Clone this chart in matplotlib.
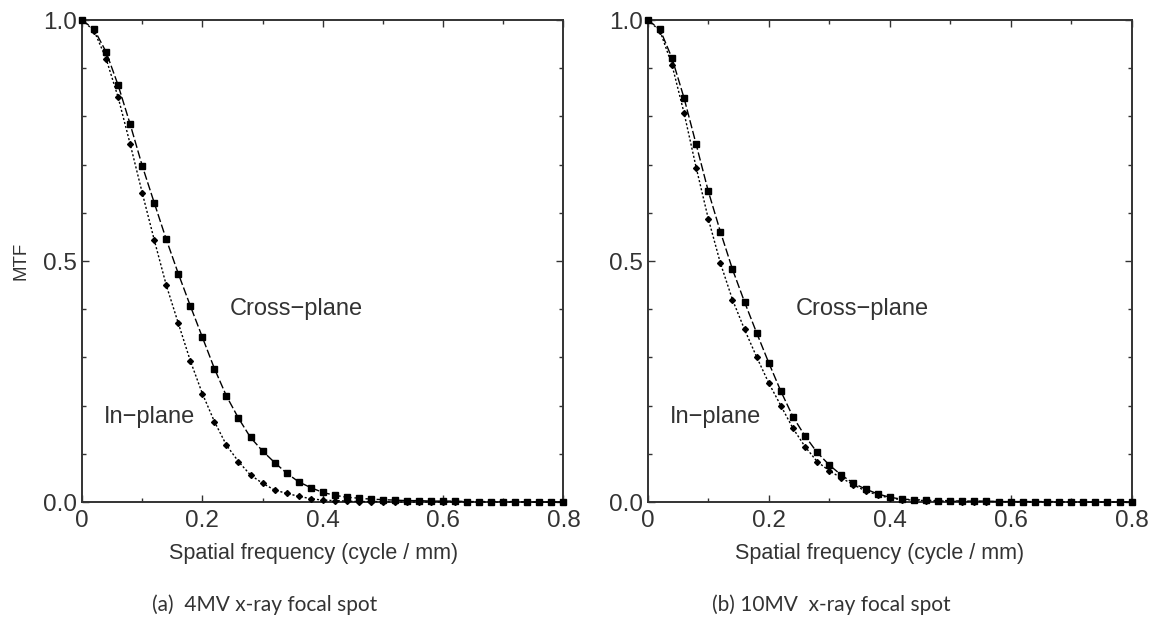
import matplotlib
matplotlib.use('Agg')
import matplotlib.pyplot as plt
from matplotlib.ticker import MultipleLocator, FixedFormatter, FixedLocator

plt.rcParams['font.family'] = ['Liberation Sans', 'DejaVu Sans']

# spatial frequency samples (cycle / mm), every 0.02
freq = [round(0.02 * i, 2) for i in range(41)]

# (a) 4MV
mtf_4mv_cross = [1.000, 0.981, 0.934, 0.865, 0.784, 0.698, 0.621, 0.545, 0.474, 0.407,
                 0.342, 0.277, 0.220, 0.174, 0.134, 0.106, 0.082, 0.060, 0.042, 0.030,
                 0.020, 0.014, 0.010, 0.008, 0.006, 0.005, 0.004, 0.003, 0.003, 0.002,
                 0.002, 0.002, 0.001, 0.001, 0.001, 0.001, 0.001, 0.000, 0.000, 0.000,
                 0.000]
mtf_4mv_in = [1.000, 0.978, 0.920, 0.840, 0.743, 0.642, 0.544, 0.450, 0.371, 0.293,
              0.225, 0.167, 0.118, 0.084, 0.056, 0.039, 0.025, 0.018, 0.012, 0.007,
              0.004, 0.003, 0.002, 0.001, 0.001, 0.001, 0.000, 0.000, 0.000, 0.000,
              0.000, 0.000, 0.000, 0.000, 0.000, 0.000, 0.000, 0.000, 0.000, 0.000,
              0.000]

# (b) 10MV
mtf_10mv_cross = [1.000, 0.981, 0.921, 0.838, 0.742, 0.645, 0.561, 0.483, 0.415, 0.351,
                  0.289, 0.230, 0.177, 0.137, 0.103, 0.077, 0.056, 0.039, 0.027, 0.017,
                  0.010, 0.006, 0.005, 0.004, 0.003, 0.003, 0.002, 0.002, 0.002, 0.001,
                  0.001, 0.001, 0.001, 0.001, 0.001, 0.000, 0.000, 0.000, 0.000, 0.000,
                  0.000]
mtf_10mv_in = [1.000, 0.978, 0.907, 0.807, 0.694, 0.588, 0.496, 0.420, 0.358, 0.301,
               0.247, 0.200, 0.153, 0.115, 0.084, 0.065, 0.050, 0.036, 0.023, 0.015,
               0.008, 0.005, 0.004, 0.003, 0.002, 0.002, 0.001, 0.001, 0.001, 0.001,
               0.000, 0.000, 0.000, 0.000, 0.000, 0.000, 0.000, 0.000, 0.000, 0.000,
               0.000]

panels = [
    ('(a)  4MV x-ray focal spot', mtf_4mv_cross, mtf_4mv_in),
    ('(b) 10MV  x-ray focal spot', mtf_10mv_cross, mtf_10mv_in),
]

fig = plt.figure(figsize=(11.63, 6.26), dpi=100)
axes = [fig.add_axes([0.0705, 0.198, 0.414, 0.770]),
        fig.add_axes([0.557, 0.198, 0.416, 0.770])]

for i, (ax, (caption, cross, inplane)) in enumerate(zip(axes, panels)):
    ax.plot(freq, cross, color='black', linestyle=(0, (6, 2)), linewidth=1.0,
            marker='s', markersize=4.3, clip_on=False, zorder=3)
    ax.plot(freq, inplane, color='black', linestyle=(0, (1.5, 1.5)), linewidth=1.0,
            marker='D', markersize=3.0, clip_on=False, zorder=3)

    ax.set_xlim(0, 0.8)
    ax.set_ylim(0, 1.0)
    ax.xaxis.set_major_locator(FixedLocator([0, 0.2, 0.4, 0.6, 0.8]))
    ax.xaxis.set_major_formatter(FixedFormatter(['0', '0.2', '0.4', '0.6', '0.8']))
    ax.xaxis.set_minor_locator(MultipleLocator(0.1))
    ax.yaxis.set_major_locator(FixedLocator([0, 0.5, 1.0]))
    ax.yaxis.set_major_formatter(FixedFormatter(['0.0', '0.5', '1.0']))
    ax.yaxis.set_minor_locator(MultipleLocator(0.1))
    ax.tick_params(which='both', direction='in', top=True, right=True,
                   width=1.0, labelsize=17.5, colors='#333333')
    ax.tick_params(which='major', length=5)
    ax.tick_params(which='minor', length=3)
    ax.tick_params(axis='x', pad=6)
    for sp in ax.spines.values():
        sp.set_linewidth(1.4)
        sp.set_color('#333333')

    ax.text(0.245, 0.40, 'Cross\u2212plane', fontsize=17, color='#333333',
            va='center', ha='left')
    ax.text(0.036, 0.176, 'In\u2212plane', fontsize=17, color='#333333',
            va='center', ha='left')

    ax.set_xlabel('Spatial frequency (cycle / mm)', fontsize=15.5, color='#333333')
    ax.xaxis.set_label_coords(0.48, -0.085)
    bbox = ax.get_position()
    fig.text((bbox.x0 + bbox.x1) / 2 - 0.05, 0.034, caption, fontsize=15,
             family=['Lato', 'DejaVu Sans'], color='#333333', ha='center', va='center')

axes[0].set_ylabel('MTF', fontsize=13.5, color='#333333', labelpad=10)

fig.savefig('out.png', dpi=100)
